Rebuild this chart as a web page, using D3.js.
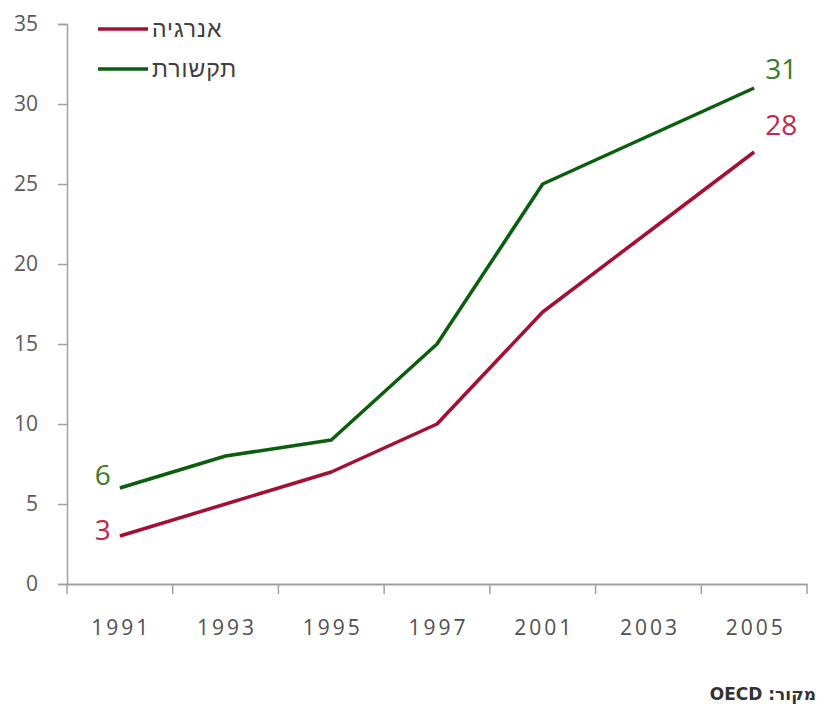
<!DOCTYPE html>
<html><head><meta charset="utf-8">
<script src="https://cdn.jsdelivr.net/npm/d3@7"></script>
<style>
html,body{margin:0;padding:0;background:#fff;}
svg{display:block;font-family:"Open Sans",sans-serif;}
</style></head>
<body><svg id="c" width="818" height="704"></svg>
<script>
const years = ["1991","1993","1995","1997","2001","2003","2005"];
const energy = [3,5,7,10,17,22,27];
const comms = [6,8,9,15,25,28,31];
const seriesNames = ["אנרגיה","תקשורת"];
const startLabels = ["3","6"];
const endLabels = ["28","31"];
const yTicks = [0,5,10,15,20,25,30,35];
const sourceText = "מקור: OECD";

const lineColors = ["#a50f34","#0b5e0d"];
const labelColors = ["#c0284c","#3a7a2c"];
const startDy = [4,-3];
const endDy = [-17,-9];

const svg = d3.select("#c");
const mLeft = 67, mRight = 807, mTop = 24, mBottom = 584;
const x = d3.scaleBand().domain(years).range([mLeft,mRight]).padding(0);
const y = d3.scaleLinear().domain([0,35]).range([mBottom,mTop]);

// y axis
const yAxis = svg.append("g").attr("transform",`translate(${mLeft},0)`)
  .call(d3.axisLeft(y).tickValues(yTicks).tickSize(9).tickPadding(20));
yAxis.select(".domain").attr("stroke","#a0a0a0").attr("stroke-width",1.5);
yAxis.selectAll(".tick line").attr("stroke","#a0a0a0").attr("stroke-width",1.5);
yAxis.selectAll(".tick text").attr("fill","#595959").style("font-size","21px").style("font-family","'Open Sans',sans-serif");

// x axis
const xAxis = svg.append("g").attr("transform",`translate(0,${mBottom})`)
  .call(d3.axisBottom(x).tickSize(0).tickPadding(36));
xAxis.select(".domain").attr("stroke","#a0a0a0").attr("stroke-width",2);
xAxis.selectAll(".tick text").attr("fill","#505050").style("font-size","21px")
  .attr("dx","1.5px")
  .style("letter-spacing","3px").style("font-family","'Open Sans',sans-serif");
// tick marks at band boundaries
const bounds = years.map(d=>x(d)).concat([x(years[years.length-1])+x.bandwidth()]);
svg.append("g").selectAll("line").data(bounds).join("line")
  .attr("x1",d=>d).attr("x2",d=>d).attr("y1",mBottom).attr("y2",mBottom+10)
  .attr("stroke","#a0a0a0").attr("stroke-width",1.5);

// lines
const cx = d=>x(d)+x.bandwidth()/2;
const data = [energy, comms];
const line = d3.line().x((d,i)=>cx(years[i])).y(d=>y(d));
data.forEach((s,k)=>{
  svg.append("path").datum(s).attr("d",line).attr("fill","none")
    .attr("stroke",lineColors[k]).attr("stroke-width",3.5).attr("stroke-linejoin","round");
});

// data labels
data.forEach((s,k)=>{
  svg.append("text").attr("x",cx(years[0])-9).attr("y",y(s[0])+startDy[k])
    .attr("text-anchor","end").attr("fill",labelColors[k]).style("font-size","28px")
    .text(startLabels[k]);
  svg.append("text").attr("x",cx(years[years.length-1])+11).attr("y",y(s[s.length-1])+endDy[k])
    .attr("text-anchor","start").attr("fill",labelColors[k]).style("font-size","28px")
    .text(endLabels[k]);
});

// legend
seriesNames.forEach((n,k)=>{
  const ly = 29 + k*40;
  svg.append("line").attr("x1",98).attr("x2",148).attr("y1",ly).attr("y2",ly)
    .attr("stroke",lineColors[k]).attr("stroke-width",3.5);
  svg.append("text").attr("x",152).attr("y",ly+8).attr("direction","rtl")
    .attr("text-anchor","end").attr("fill","#404040").style("font-size","23px")
    .style("letter-spacing","1px")
    .style("font-family","'Liberation Sans','DejaVu Sans',sans-serif").text(n);
});

// source
svg.append("text").attr("x",816).attr("y",700).attr("direction","rtl")
  .attr("text-anchor","start").attr("fill","#333").style("font-size","17px")
  .style("font-weight","bold").style("font-family","'DejaVu Sans',sans-serif").text(sourceText);
</script></body></html>
